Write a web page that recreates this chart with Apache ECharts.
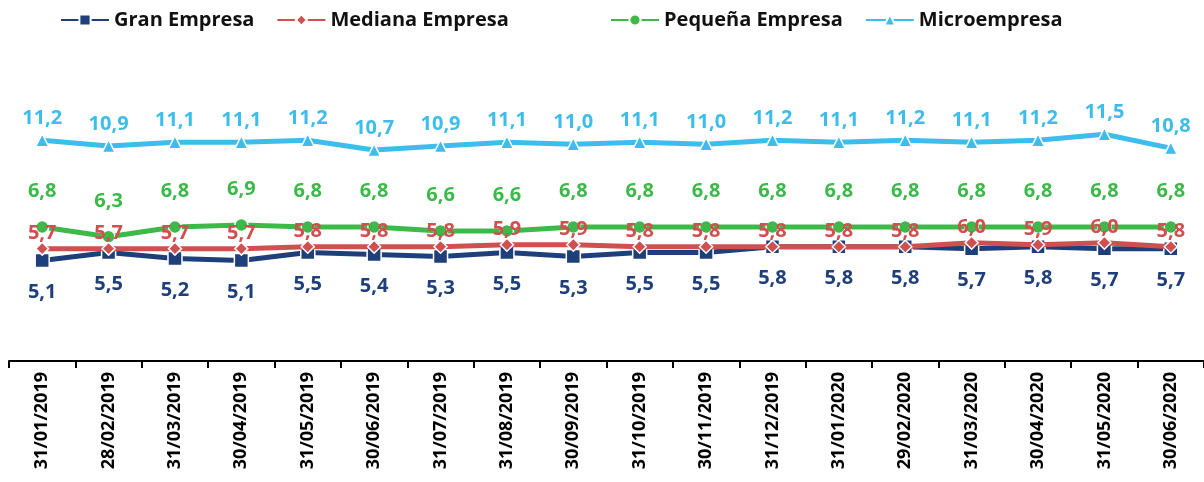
<!DOCTYPE html>
<html>
<head>
<meta charset="utf-8">
<title>Empresas</title>
<script src="https://cdn.jsdelivr.net/npm/echarts@6/dist/echarts.min.js"></script>
</head>
<body style="margin:0;background:#fff;">
<div id="main" style="width:1204px;height:482px;"></div>
<script type="text/javascript">
var fechas = ['31/01/2019', '28/02/2019', '31/03/2019', '30/04/2019', '31/05/2019', '30/06/2019',
    '31/07/2019', '31/08/2019', '30/09/2019', '31/10/2019', '30/11/2019', '31/12/2019',
    '31/01/2020', '29/02/2020', '31/03/2020', '30/04/2020', '31/05/2020', '30/06/2020'];
var gran = [5.1, 5.5, 5.2, 5.1, 5.5, 5.4, 5.3, 5.5, 5.3, 5.5, 5.5, 5.8, 5.8, 5.8, 5.7, 5.8, 5.7, 5.7];
var mediana = [5.7, 5.7, 5.7, 5.7, 5.8, 5.8, 5.8, 5.9, 5.9, 5.8, 5.8, 5.8, 5.8, 5.8, 6.0, 5.9, 6.0, 5.8];
var pequena = [6.8, 6.3, 6.8, 6.9, 6.8, 6.8, 6.6, 6.6, 6.8, 6.8, 6.8, 6.8, 6.8, 6.8, 6.8, 6.8, 6.8, 6.8];
var micro = [11.2, 10.9, 11.1, 11.1, 11.2, 10.7, 10.9, 11.1, 11.0, 11.1, 11.0, 11.2, 11.1, 11.2, 11.1, 11.2, 11.5, 10.8];

var myChart = echarts.init(document.getElementById('main'));
var fuente = '"Open Sans", "DejaVu Sans", sans-serif';

function coma(p) {
    return p.value.toFixed(1).replace('.', ',');
}

function serie(nombre, datos, color, simbolo, tam, pos, dist, z) {
    return {
        name: nombre,
        type: 'line',
        data: datos,
        z: z,
        symbol: simbolo,
        symbolSize: tam,
        lineStyle: { color: color, width: 5 },
        itemStyle: { color: color, borderColor: '#fff', borderWidth: 1.5 },
        label: {
            show: true,
            position: pos,
            distance: dist,
            formatter: coma,
            color: color,
            fontFamily: fuente,
            fontWeight: 'bold',
            fontSize: 20
        }
    };
}

var leyendaTexto = { fontFamily: fuente, fontWeight: 'bold', fontSize: 20, color: '#111' };

var option = {
    animation: false,
    legend: [{
        top: 5,
        left: 55,
        itemWidth: 48,
        itemHeight: 14,
        itemGap: 22,
        textStyle: leyendaTexto,
        data: ['Gran Empresa', 'Mediana Empresa']
    }, {
        top: 5,
        left: 605,
        itemWidth: 48,
        itemHeight: 14,
        itemGap: 22,
        textStyle: leyendaTexto,
        data: ['Pequeña Empresa', 'Microempresa']
    }],
    grid: { left: 9, width: 1197, top: 85, bottom: 121, containLabel: false },
    xAxis: {
        type: 'category',
        data: fechas,
        axisLine: { lineStyle: { color: '#000', width: 2 } },
        axisTick: { show: true, length: 7, lineStyle: { color: '#000', width: 2 } },
        axisLabel: {
            rotate: 90,
            interval: 0,
            margin: 11,
            color: '#000',
            fontFamily: fuente,
            fontWeight: 'bold',
            fontSize: 18
        }
    },
    yAxis: {
        type: 'value',
        min: 0,
        max: 14,
        show: false,
        splitLine: { show: false }
    },
    series: [
        serie('Gran Empresa', gran, '#1F3F7A', 'rect', 14, 'bottom', 14, 2),
        serie('Mediana Empresa', mediana, '#D0504F', 'diamond', 13, 'top', -2, 6),
        serie('Pequeña Empresa', pequena, '#3DB94A', 'circle', 13, 'top', 18, 4),
        serie('Microempresa', micro, '#3DBDEB', 'triangle', 13, 'top', 5, 5)
    ]
};

myChart.setOption(option);
</script>
</body>
</html>
